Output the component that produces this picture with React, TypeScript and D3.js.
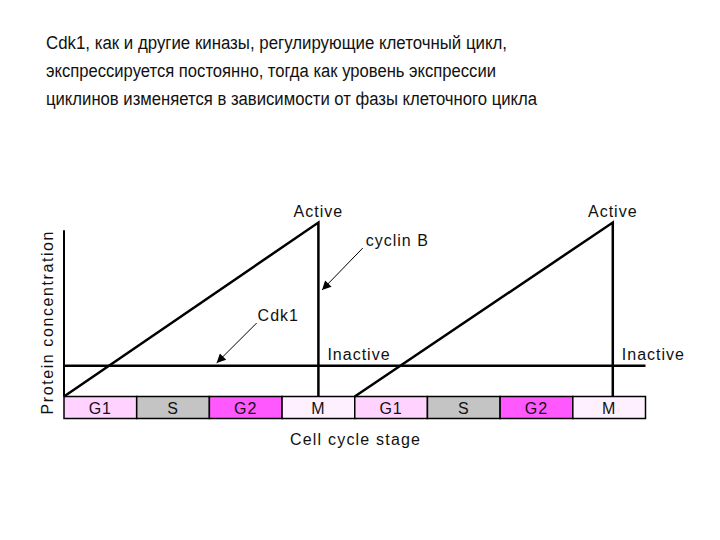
import React, { useEffect, useRef } from "react";
import * as d3 from "d3";

// title lines (Russian caption above the diagram)
const titleLines = [
  "Cdk1, как и другие киназы, регулирующие клеточный цикл,",
  "экспрессируется постоянно, тогда как уровень экспрессии",
  "циклинов изменяется в зависимости от фазы клеточного цикла",
];

// cell cycle stages along the x axis (one unit each)
const stages = ["G1", "S", "G2", "M", "G1", "S", "G2", "M"];
const stageFill: Record<string, string> = {
  G1: "#ffd2ff",
  S: "#c4c4c4",
  G2: "#ff58ff",
  M: "#fff0ff",
};

// cyclin B: sawtooth, rises from 0 to peak then drops in M
const cyclinB1 = [
  { x: 0, y: 0 },
  { x: 3.5, y: 1 },
  { x: 3.5, y: 0 },
];
const cyclinB2 = [
  { x: 4, y: 0 },
  { x: 7.55, y: 1 },
  { x: 7.55, y: 0 },
];

// Cdk1: constant level
const cdk1 = [
  { x: 0, y: 0.177 },
  { x: 8, y: 0.177 },
];

const activeLabels = [3.5, 7.55];
const inactiveLabels = [3.5, 7.55];

const App = () => {
  const svgRef = useRef<SVGSVGElement>(null);
  const width = 720;
  const height = 540;

  useEffect(() => {
    const svg = d3.select(svgRef.current);
    svg.selectAll("*").remove();

    const font = "'Liberation Sans', Arial, sans-serif";

    const x = d3.scaleLinear().domain([0, 8]).range([64, 645.5]);
    const y = d3.scaleLinear().domain([0, 1]).range([396.5, 222.5]);

    // title
    svg
      .append("g")
      .selectAll("text")
      .data(titleLines)
      .enter()
      .append("text")
      .attr("x", 46)
      .attr("y", (d, i) => 49 + i * 28)
      .attr("textLength", (d, i) => [461, 450, 491][i])
      .attr("lengthAdjust", "spacingAndGlyphs")
      .style("font-family", font)
      .style("font-size", "18px")
      .style("fill", "#111")
      .text((d) => d);

    const defs = svg.append("defs");
    defs
      .append("marker")
      .attr("id", "arrow")
      .attr("viewBox", "0 0 10 10")
      .attr("refX", 10)
      .attr("refY", 5)
      .attr("markerWidth", 13)
      .attr("markerHeight", 9)
      .attr("markerUnits", "userSpaceOnUse")
      .attr("orient", "auto")
      .append("path")
      .attr("d", "M0,0 L10,5 L0,10 Z")
      .attr("fill", "#000");

    // stage bar
    const bar = svg.append("g");
    const barTop = y(0);
    const barH = 22;
    bar
      .selectAll("rect")
      .data(stages)
      .enter()
      .append("rect")
      .attr("x", (d, i) => x(i))
      .attr("y", barTop)
      .attr("width", x(1) - x(0))
      .attr("height", barH)
      .attr("fill", (d) => stageFill[d])
      .attr("stroke", "#000")
      .attr("stroke-width", 1.5);
    bar
      .selectAll("text")
      .data(stages)
      .enter()
      .append("text")
      .attr("x", (d, i) => x(i + 0.5))
      .attr("y", barTop + 17)
      .attr("text-anchor", "middle")
      .style("font-family", font)
      .style("font-size", "16px")
      .style("letter-spacing", "1px")
      .style("fill", "#111")
      .text((d) => d);

    // y axis line
    svg
      .append("line")
      .attr("x1", x(0))
      .attr("x2", x(0))
      .attr("y1", y(0))
      .attr("y2", y(0.955))
      .attr("stroke", "#000")
      .attr("stroke-width", 2);

    const line = d3
      .line<{ x: number; y: number }>()
      .x((d) => x(d.x))
      .y((d) => y(d.y));

    svg
      .append("path")
      .attr("d", line(cdk1))
      .attr("fill", "none")
      .attr("stroke", "#000")
      .attr("stroke-width", 2.5);

    [cyclinB1, cyclinB2].forEach((s) => {
      svg
        .append("path")
        .attr("d", line(s))
        .attr("fill", "none")
        .attr("stroke", "#000")
        .attr("stroke-width", 2.5)
        .attr("stroke-linejoin", "miter");
    });

    // Active / Inactive labels
    svg
      .selectAll(".active")
      .data(activeLabels)
      .enter()
      .append("text")
      .attr("class", "active")
      .attr("x", (d) => x(d))
      .attr("y", y(1) - 6)
      .attr("text-anchor", "middle")
      .style("font-family", font)
      .style("font-size", "16px")
      .style("letter-spacing", "1px")
      .style("fill", "#111")
      .text("Active");

    svg
      .selectAll(".inactive")
      .data(inactiveLabels)
      .enter()
      .append("text")
      .attr("class", "inactive")
      .attr("x", (d) => x(d) + 9)
      .attr("y", y(0.177) - 6)
      .style("font-family", font)
      .style("font-size", "16px")
      .style("letter-spacing", "1px")
      .style("fill", "#111")
      .text("Inactive");

    // annotations with arrows
    const notes = [
      { label: "cyclin B", x0: 4.11, y0: 0.853, x1: 3.55, y1: 0.612, dx: 3, dy: -2 },
      { label: "Cdk1", x0: 2.65, y0: 0.422, x1: 2.1, y1: 0.193, dx: 1, dy: -2 },
    ];
    notes.forEach((n) => {
      svg
        .append("line")
        .attr("x1", x(n.x0))
        .attr("y1", y(n.y0))
        .attr("x2", x(n.x1))
        .attr("y2", y(n.y1))
        .attr("stroke", "#000")
        .attr("stroke-width", 1)
        .attr("marker-end", "url(#arrow)");
      svg
        .append("text")
        .attr("x", x(n.x0) + n.dx)
        .attr("y", y(n.y0) + n.dy)
        .style("font-family", font)
        .style("font-size", "16px")
        .style("letter-spacing", "1px")
        .style("fill", "#111")
        .text(n.label);
    });

    // axis titles
    svg
      .append("text")
      .attr("transform", `translate(53,${(231 + 415) / 2}) rotate(-90)`)
      .attr("text-anchor", "middle")
      .attr("textLength", 183)
      .attr("lengthAdjust", "spacing")
      .style("font-family", font)
      .style("font-size", "16px")
      .style("fill", "#111")
      .text("Protein concentration");

    svg
      .append("text")
      .attr("x", 355)
      .attr("y", 445)
      .attr("text-anchor", "middle")
      .attr("textLength", 130)
      .attr("lengthAdjust", "spacing")
      .style("font-family", font)
      .style("font-size", "16px")
      .style("fill", "#111")
      .text("Cell cycle stage");
  }, []);

  return (
    <svg
      ref={svgRef}
      width={width}
      height={height}
      style={{ position: "absolute", left: 0, top: 0, background: "#fff" }}
    />
  );
};

export default App;
